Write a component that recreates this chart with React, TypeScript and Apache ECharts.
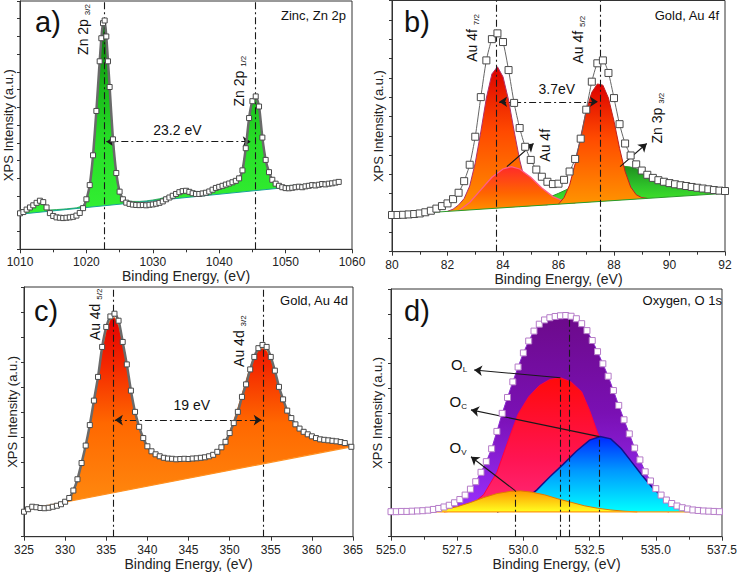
import React, { useEffect, useRef } from "react";
import * as echarts from "echarts";

const FONT = "'Liberation Sans', Arial, sans-serif";

// ---------------- Panel a: Zinc, Zn 2p ----------------
const zincSpectrum: [number, number][] = [
  [1010, 2.03], [1010.5, 2.1], [1011, 2.24], [1011.5, 2.36], [1012, 2.48], [1012.5, 2.62], [1013, 2.74], [1013.5, 2.66],
  [1014, 2.36], [1014.5, 2.04], [1015, 1.88], [1015.5, 1.8], [1016, 1.78], [1016.5, 1.76], [1017, 1.78], [1017.5, 1.8],
  [1018, 1.83], [1018.5, 1.9], [1019, 2.05], [1019.5, 2.32], [1020, 2.82], [1020.5, 3.62], [1021, 5.3], [1021.5, 7.8],
  [1022, 10.6], [1022.25, 11.9], [1022.5, 12.75], [1022.75, 12.9], [1023, 12.0], [1023.25, 10.6], [1023.5, 9.15],
  [1024, 6.2], [1024.5, 4.3], [1025, 3.25], [1025.5, 2.82], [1026, 2.63], [1026.5, 2.56], [1027, 2.52], [1027.5, 2.5],
  [1028, 2.49], [1028.5, 2.5], [1029, 2.48], [1029.5, 2.51], [1030, 2.53], [1030.5, 2.57], [1031, 2.62], [1031.5, 2.7],
  [1032, 2.82], [1032.5, 2.92], [1033, 3.02], [1033.5, 3.12], [1034, 3.22], [1034.5, 3.28], [1035, 3.3], [1035.5, 3.24],
  [1036, 3.16], [1036.5, 3.12], [1037, 3.12], [1037.5, 3.15], [1038, 3.19], [1038.5, 3.26], [1039, 3.36], [1039.5, 3.46],
  [1040, 3.52], [1040.5, 3.58], [1041, 3.65], [1041.5, 3.71], [1042, 3.78], [1042.5, 3.86], [1043, 4.0], [1043.5, 4.45],
  [1044, 5.7], [1044.5, 7.4], [1045, 8.35], [1045.5, 8.62], [1046, 8.05], [1046.5, 6.3], [1047, 5.04], [1047.5, 4.35],
  [1048, 3.92], [1048.5, 3.7], [1049, 3.58], [1049.5, 3.5], [1050, 3.45], [1050.5, 3.44], [1051, 3.47], [1051.5, 3.5],
  [1052, 3.53], [1052.5, 3.5], [1053, 3.55], [1053.5, 3.58], [1054, 3.62], [1054.5, 3.6], [1055, 3.64], [1055.5, 3.68],
  [1056, 3.66], [1056.5, 3.7], [1057, 3.72], [1057.5, 3.76], [1058, 3.8],
];
const zincEnvelope: [number, number][] = [
  [1010, 1.98], [1011, 2.15], [1012, 2.45], [1013, 2.7], [1013.5, 2.62], [1014, 2.38], [1014.5, 2.22], [1015.5, 2.24],
  [1017, 2.28], [1018.5, 2.34], [1019.5, 2.45], [1020, 2.8], [1020.5, 3.6], [1021, 5.2], [1021.5, 7.6], [1022, 10.4],
  [1022.25, 11.7], [1022.5, 12.55], [1022.75, 12.7], [1023, 11.85], [1023.25, 10.5], [1023.5, 9.0], [1024, 6.1],
  [1024.5, 4.25], [1025, 3.25], [1025.5, 2.9], [1026, 2.75], [1027, 2.7], [1028, 2.7], [1029, 2.73], [1030, 2.78],
  [1031, 2.85], [1032, 2.95], [1033, 3.1], [1034, 3.25], [1035, 3.32], [1036, 3.28], [1037, 3.25], [1038, 3.28],
  [1039, 3.38], [1040, 3.52], [1041, 3.65], [1042, 3.78], [1043, 4.0], [1043.5, 4.4], [1044, 5.65], [1044.5, 7.35],
  [1045, 8.3], [1045.5, 8.55], [1046, 8.0], [1046.5, 6.25], [1047, 5.0], [1047.5, 4.32], [1048, 3.92], [1048.5, 3.72],
  [1049, 3.62], [1050, 3.58], [1052, 3.62], [1054, 3.68], [1056, 3.72], [1058, 3.78],
];
const zincBaseline: [number, number][] = [[1010, 1.98], [1058, 3.78]];

// ---------------- Panel b: Gold, Au 4f ----------------
const au4fSpectrum: [number, number][] = [
  [80.0, 1.9], [80.2, 1.9], [80.4, 1.91], [80.6, 1.93], [80.8, 1.95], [81.0, 1.98], [81.2, 2.04], [81.4, 2.12],
  [81.6, 2.23], [81.8, 2.36], [82.0, 2.5], [82.2, 2.72], [82.4, 3.05], [82.6, 3.65], [82.8, 4.5], [83.0, 5.95],
  [83.2, 8.0], [83.4, 9.9], [83.6, 11.0], [83.8, 11.3], [84.0, 10.85], [84.2, 9.4], [84.4, 7.7], [84.6, 6.4],
  [84.8, 5.43], [85.0, 4.75], [85.2, 4.25], [85.4, 3.88], [85.6, 3.62], [85.8, 3.5], [86.0, 3.52], [86.2, 3.72],
  [86.4, 4.15], [86.6, 4.8], [86.8, 5.85], [87.0, 7.35], [87.2, 8.8], [87.4, 9.75], [87.6, 9.9], [87.8, 9.25],
  [88.0, 7.95], [88.2, 6.6], [88.4, 5.6], [88.6, 4.98], [88.8, 4.52], [89.0, 4.2], [89.2, 3.98], [89.4, 3.82],
  [89.6, 3.7], [89.8, 3.62], [90.0, 3.55], [90.2, 3.49], [90.4, 3.44], [90.6, 3.4], [90.8, 3.35], [91.0, 3.31],
  [91.2, 3.27], [91.4, 3.23], [91.6, 3.19], [91.8, 3.16], [92.0, 3.14],
];
const au4f72: [number, number][] = [
  [82.0, 2.09], [82.2, 2.2], [82.4, 2.42], [82.6, 2.75], [82.8, 3.4], [83.0, 4.6], [83.2, 6.2], [83.4, 7.95],
  [83.6, 9.2], [83.8, 9.57], [84.0, 9.05], [84.2, 7.85], [84.4, 6.25], [84.6, 4.75], [84.8, 3.6], [85.0, 2.95],
  [85.2, 2.6], [85.4, 2.45], [85.6, 2.42],
];
const au4fBroad: [number, number][] = [
  [82.4, 2.12], [82.8, 2.55], [83.2, 3.2], [83.6, 3.85], [84.0, 4.28], [84.3, 4.4], [84.6, 4.28], [85.0, 3.85],
  [85.4, 3.3], [85.8, 2.85], [86.2, 2.6], [86.6, 2.52],
];
const au4f52: [number, number][] = [
  [86.0, 2.46], [86.2, 2.8], [86.4, 3.45], [86.6, 4.55], [86.8, 5.95], [87.0, 7.3], [87.2, 8.25], [87.4, 8.68],
  [87.6, 8.62], [87.8, 7.95], [88.0, 6.75], [88.2, 5.35], [88.4, 4.15], [88.6, 3.35], [88.8, 2.95], [89.0, 2.8],
  [89.2, 2.76],
];
const zn3p32: [number, number][] = [
  [84.6, 2.33], [85.0, 2.5], [85.5, 2.72], [86.0, 3.02], [86.5, 3.35], [87.0, 3.7], [87.5, 4.12], [88.0, 4.4],
  [88.3, 4.43], [88.6, 4.38], [89.0, 4.2], [89.5, 3.9], [90.0, 3.65], [90.5, 3.43], [91.0, 3.28], [91.5, 3.17],
  [92.0, 3.1], [92.0, 3.02],
];
const au4fBaseline: [number, number][] = [[80, 1.9], [92, 3.02]];

// ---------------- Panel c: Gold, Au 4d ----------------
const au4dSpectrum: [number, number][] = [
  [325, 1.0], [325.5, 1.1], [326, 1.2], [326.5, 1.18], [327, 1.15], [327.5, 1.14], [328, 1.16], [328.5, 1.2],
  [329, 1.24], [329.5, 1.3], [330, 1.4], [330.5, 1.55], [331, 1.85], [331.5, 2.3], [332, 2.95], [332.5, 3.65],
  [333, 4.47], [333.5, 5.45], [334, 6.4], [334.5, 7.6], [335, 8.4], [335.5, 8.82], [336, 8.93], [336.5, 8.65],
  [337, 7.8], [337.5, 6.9], [338, 5.85], [338.5, 5.0], [339, 4.4], [339.5, 3.95], [340, 3.62], [340.5, 3.42],
  [341, 3.3], [341.5, 3.22], [342, 3.16], [342.5, 3.13], [343, 3.12], [343.5, 3.1], [344, 3.11], [344.5, 3.12],
  [345, 3.11], [345.5, 3.13], [346, 3.14], [346.5, 3.16], [347, 3.18], [347.5, 3.22], [348, 3.28], [348.5, 3.4],
  [349, 3.58], [349.5, 3.8], [350, 4.15], [350.5, 4.55], [351, 5.0], [351.5, 5.6], [352, 6.1], [352.5, 6.7],
  [353, 7.2], [353.5, 7.55], [354, 7.68], [354.5, 7.6], [355, 7.2], [355.5, 6.65], [356, 6.0], [356.5, 5.5],
  [357, 5.05], [357.5, 4.75], [358, 4.5], [358.5, 4.33], [359, 4.2], [359.5, 4.1], [360, 4.02], [360.5, 3.95],
  [361, 3.9], [361.5, 3.88], [362, 3.86], [362.5, 3.84], [363, 3.82], [363.5, 3.79], [364, 3.75], [364.8, 3.6],
];
const au4dEnvelope: [number, number][] = [
  [325, 1.07], [326, 1.12], [327, 1.17], [328, 1.22], [329, 1.28], [330, 1.4], [330.5, 1.55], [331, 1.8],
  [331.5, 2.25], [332, 2.9], [332.5, 3.65], [333, 4.45], [333.5, 5.4], [334, 6.4], [334.5, 7.45], [335, 8.25],
  [335.5, 8.7], [336, 8.78], [336.5, 8.45], [337, 7.75], [337.5, 6.8], [338, 5.8], [338.5, 4.95], [339, 4.3],
  [339.5, 3.85], [340, 3.55], [341, 3.25], [342, 3.12], [343, 3.08], [344, 3.07], [345, 3.08], [346, 3.12],
  [347, 3.18], [348, 3.3], [348.5, 3.42], [349, 3.6], [349.5, 3.85], [350, 4.2], [350.5, 4.65], [351, 5.15],
  [351.5, 5.7], [352, 6.25], [352.5, 6.8], [353, 7.2], [353.5, 7.45], [354, 7.55], [354.5, 7.45], [355, 7.1],
  [355.5, 6.6], [356, 6.0], [356.5, 5.45], [357, 5.0], [357.5, 4.65], [358, 4.4], [359, 4.12], [360, 3.98],
  [361, 3.88], [362, 3.82], [363, 3.78], [364, 3.7], [364.8, 3.6],
];
const au4dBaseline: [number, number][] = [[325, 1.07], [364.8, 3.6]];

// ---------------- Panel d: Oxygen, O 1s ----------------
const o1sSpectrum: [number, number][] = [
  [525.0, 1.01], [525.2, 1.01], [525.4, 1.02], [525.6, 1.02], [525.8, 1.03], [526.0, 1.04], [526.2, 1.05], [526.4, 1.07],
  [526.6, 1.1], [526.8, 1.14], [527.0, 1.2], [527.2, 1.27], [527.4, 1.37], [527.6, 1.5], [527.8, 1.68], [528.0, 1.92],
  [528.2, 2.22], [528.4, 2.6], [528.6, 3.03], [528.8, 3.55], [529.0, 4.25], [529.2, 4.98], [529.4, 5.62], [529.6, 6.25],
  [529.8, 6.85], [530.0, 7.42], [530.2, 7.9], [530.4, 8.3], [530.6, 8.58], [530.8, 8.75], [531.0, 8.84], [531.2, 8.89],
  [531.4, 8.92], [531.6, 8.93], [531.8, 8.9], [532.0, 8.8], [532.2, 8.6], [532.4, 8.32], [532.6, 7.92], [532.8, 7.47],
  [533.0, 6.98], [533.2, 6.48], [533.4, 5.9], [533.6, 5.3], [533.8, 4.72], [534.0, 4.15], [534.2, 3.58], [534.4, 3.1],
  [534.6, 2.62], [534.8, 2.25], [535.0, 1.94], [535.2, 1.68], [535.4, 1.48], [535.6, 1.34], [535.8, 1.24], [536.0, 1.17],
  [536.2, 1.12], [536.4, 1.08], [536.6, 1.06], [536.8, 1.04], [537.0, 1.03], [537.2, 1.02], [537.4, 1.01],
];
const o1sLattice: [number, number][] = [
  [527.0, 1.0], [527.5, 1.05], [528.0, 1.25], [528.5, 1.7], [529.0, 2.6], [529.5, 4.1], [529.8, 4.95], [530.2, 5.65],
  [530.6, 6.1], [531.0, 6.35], [531.4, 6.42], [531.8, 6.25], [532.2, 5.85], [532.5, 5.1], [532.8, 4.2], [533.2, 3.2],
  [533.6, 2.4], [534.0, 1.8], [534.5, 1.35], [535.0, 1.1], [535.5, 1.0],
];
const o1sChemisorbed: [number, number][] = [
  [529.0, 1.0], [529.5, 1.15], [530.0, 1.45], [530.5, 1.88], [531.0, 2.42], [531.5, 2.92], [532.0, 3.45], [532.5, 3.9],
  [532.9, 4.04], [533.3, 3.95], [533.7, 3.55], [534.1, 3.0], [534.5, 2.45], [534.9, 1.95], [535.3, 1.57], [535.7, 1.3],
  [536.1, 1.12], [536.5, 1.03], [537.0, 1.0],
];
const o1sVacancy: [number, number][] = [
  [526.0, 1.0], [526.5, 1.04], [527.0, 1.1], [527.5, 1.21], [528.0, 1.38], [528.5, 1.58], [529.0, 1.74], [529.5, 1.83],
  [529.9, 1.85], [530.3, 1.8], [530.8, 1.69], [531.3, 1.53], [531.8, 1.39], [532.3, 1.25], [532.8, 1.15], [533.3, 1.08],
  [533.8, 1.03], [534.3, 1.0],
];
const o1sBaseline: [number, number][] = [[525, 1.0], [537.5, 1.0]];

// ---------------- layout / axes ----------------
const grids = [
  { left: 20, top: 1, width: 332, height: 248.3 },
  { left: 392, top: 0.5, width: 333, height: 251.2 },
  { left: 24, top: 287, width: 329, height: 249.7 },
  { left: 391, top: 289, width: 335, height: 247.7 },
];
const xRanges = [
  { min: 1010, max: 1060, interval: 10, minor: true, digits: 0 },
  { min: 80, max: 92, interval: 2, minor: true, digits: 0 },
  { min: 325, max: 365, interval: 5, minor: false, digits: 0 },
  { min: 525, max: 537.5, interval: 2.5, minor: true, digits: 1 },
];
const yMax = [14, 13, 10, 10];

const DASHDOT = [7, 3, 2, 3];
const vgrad = (stops: [number, string][]) =>
  new echarts.graphic.LinearGradient(0, 0, 0, 1, stops.map(([offset, color]) => ({ offset, color })));

function fillSeries(g: number, pts: [number, number][], fill: any, stroke?: string, lw = 1) {
  return {
    type: "custom",
    xAxisIndex: g,
    yAxisIndex: g,
    z: 2,
    silent: true,
    data: [pts[0]],
    renderItem: (_p: any, api: any) => {
      const points = pts.map((p) => api.coord(p));
      const children: any[] = [{ type: "polygon", shape: { points }, style: { fill } }];
      if (stroke) children.push({ type: "polyline", shape: { points }, style: { stroke, fill: "none", lineWidth: lw } });
      return { type: "group", children };
    },
  };
}

function lineSeries(g: number, pts: [number, number][], color: string, width = 1, z = 4) {
  return {
    type: "line",
    xAxisIndex: g,
    yAxisIndex: g,
    data: pts,
    symbol: "none",
    silent: true,
    z,
    lineStyle: { color, width },
  };
}

type Seg = { from: [number, number]; to: [number, number]; dash?: boolean; start?: boolean; end?: boolean };
function markLines(segs: Seg[]) {
  return {
    silent: true,
    animation: false,
    symbolSize: 8,
    label: { show: false },
    emphasis: { disabled: true },
    data: segs.map((s) => [
      {
        coord: s.from,
        symbol: s.start ? "arrow" : "none",
        lineStyle: { color: "#1a1a1a", width: 1.1, type: s.dash ? DASHDOT : "solid" },
      },
      { coord: s.to, symbol: s.end ? "arrow" : "none" },
    ]),
  };
}

function dataSeries(
  g: number,
  pts: [number, number][],
  border: string,
  size: number,
  lineColor: string,
  lineWidth: number,
  segs: Seg[]
) {
  return {
    type: "line",
    xAxisIndex: g,
    yAxisIndex: g,
    data: pts,
    smooth: 0.2,
    symbol: "rect",
    symbolSize: size,
    showSymbol: true,
    showAllSymbol: true,
    silent: true,
    z: 5,
    itemStyle: { color: "#fff", borderColor: border, borderWidth: 1 },
    lineStyle: { color: lineColor, width: lineWidth },
    markLine: markLines(segs),
  };
}

const annoTexts = [
  { g: 0, at: [1019.5, 10.96], main: "Zn 2p ", sub: "3/2", rot: true },
  { g: 0, at: [1043.0, 8.05], main: "Zn 2p ", sub: "1/2", rot: true },
  { g: 0, at: [1033.7, 6.73], main: "23.2 eV" },
  { g: 1, at: [82.88, 9.83], main: "Au 4f ", sub: "7/2", rot: true },
  { g: 1, at: [86.72, 9.74], main: "Au 4f ", sub: "5/2", rot: true },
  { g: 1, at: [85.52, 4.66], main: "Au 4f", rot: true },
  { g: 1, at: [89.54, 5.6], main: "Zn 3p ", sub: "3/2", rot: true },
  { g: 1, at: [85.94, 8.4], main: "3.7eV" },
  { g: 2, at: [333.6, 7.87], main: "Au 4d ", sub: "5/2", rot: true },
  { g: 2, at: [351.2, 6.8], main: "Au 4d ", sub: "3/2", rot: true },
  { g: 2, at: [345.4, 5.27], main: "19 eV" },
  { g: 3, at: [527.27, 6.94], main: "O", sub: "L", left: true },
  { g: 3, at: [527.21, 5.45], main: "O", sub: "C", left: true },
  { g: 3, at: [527.21, 3.6], main: "O", sub: "V", left: true },
];
const panelLetters = [
  { text: "a)", x: 35, y: 7 },
  { text: "b)", x: 404, y: 7 },
  { text: "c)", x: 34, y: 296 },
  { text: "d)", x: 404, y: 296 },
];
const panelTitles = [
  { text: "Zinc, Zn 2p", x: 346, y: 15 },
  { text: "Gold, Au 4f", x: 719, y: 15 },
  { text: "Gold, Au 4d", x: 348, y: 300 },
  { text: "Oxygen, O 1s", x: 722, y: 300 },
];

function buildOption() {
  const xAxis = xRanges.map((r, i) => ({
    type: "value",
    gridIndex: i,
    min: r.min,
    max: r.max,
    interval: r.interval,
    name: "Binding Energy, (eV)",
    nameLocation: "middle",
    nameGap: 20,
    nameTextStyle: { fontSize: 14, color: "#222", fontFamily: FONT },
    axisLine: { show: true, lineStyle: { color: "#333", width: 1 } },
    axisTick: { show: true, length: 4, inside: false, lineStyle: { color: "#333" } },
    minorTick: { show: r.minor, splitNumber: 2, length: 3, lineStyle: { color: "#333" } },
    splitLine: { show: false },
    axisLabel: {
      fontSize: 12,
      color: "#222",
      fontFamily: FONT,
      margin: 7,
      formatter: (v: number) => v.toFixed(r.digits),
    },
  }));
  const yAxis = yMax.map((m, i) => ({
    type: "value",
    gridIndex: i,
    min: 0,
    max: m,
    interval: 1,
    name: "XPS Intensity (a.u.)",
    nameLocation: "middle",
    nameGap: i % 2 === 0 ? 5 : 7,
    nameTextStyle: { fontSize: 13, color: "#222", fontFamily: FONT },
    axisLine: { show: true, lineStyle: { color: "#333", width: 1 } },
    axisTick: { show: true, length: 3, inside: false, lineStyle: { color: "#333" } },
    axisLabel: { show: false },
    splitLine: { show: false },
  }));

  const series: any[] = [
    // panel a
    fillSeries(0, zincEnvelope, vgrad([[0, "#0c6f0c"], [0.3, "#18b418"], [0.6, "#26dc26"], [1, "#33f033"]]), "#1a9a5a", 0.8),
    lineSeries(0, zincBaseline, "#1aa39a", 1),
    dataSeries(0, zincSpectrum, "#4a4a4a", 5, "#6a6a6a", 2.5, [
      { from: [1022.65, 0], to: [1022.65, 14], dash: true },
      { from: [1045.5, 0], to: [1045.5, 14], dash: true },
      { from: [1023.0, 6.07], to: [1044.75, 6.07], dash: true, start: true, end: true },
    ]),
    // panel b
    fillSeries(1, zn3p32, vgrad([[0, "#1f8f1f"], [0.5, "#2fc42a"], [1, "#45f028"]]), "#2a9a2a", 1),
    fillSeries(1, au4f72, vgrad([[0, "#dc0000"], [0.45, "#ff4a00"], [1, "#ff9400"]]), "#b0306a", 1),
    fillSeries(1, au4fBroad, vgrad([[0, "#ff2a2a"], [0.6, "#ff6400"], [1, "#ff9000"]]), "#ff5c8a", 1.3),
    fillSeries(1, au4f52, vgrad([[0, "#dc0000"], [0.45, "#ff4a00"], [1, "#ff9400"]]), "#c02020", 1),
    lineSeries(1, au4fBaseline, "#2a9a2a", 1),
    dataSeries(1, au4fSpectrum, "#4a4a4a", 7, "#666", 1, [
      { from: [83.76, 0], to: [83.76, 13], dash: true },
      { from: [87.5, 0], to: [87.5, 13], dash: true },
      { from: [83.86, 7.76], to: [87.42, 7.76], dash: true, start: true, end: true },
      { from: [84.14, 4.4], to: [85.1, 5.6], end: true },
      { from: [88.22, 4.4], to: [89.18, 5.6], end: true },
    ]),
    // panel c
    fillSeries(2, au4dEnvelope, vgrad([[0, "#e40000"], [0.25, "#f42800"], [0.55, "#ff6800"], [1, "#ff8c10"]]), "#e06000", 0.8),
    lineSeries(2, au4dBaseline, "#ff9020", 1.2),
    dataSeries(2, au4dSpectrum, "#4a4a4a", 5, "#6a6a6a", 2.5, [
      { from: [335.85, 0], to: [335.85, 10], dash: true },
      { from: [354.07, 0], to: [354.07, 10], dash: true },
      { from: [336.05, 4.67], to: [353.9, 4.67], dash: true, start: true, end: true },
    ]),
    // panel d
    fillSeries(3, o1sSpectrum, vgrad([[0, "#6c0a8a"], [0.5, "#7a10b4"], [1, "#9a30ff"]]), "#8a2ad0", 1),
    fillSeries(3, o1sLattice, vgrad([[0, "#ff0a0a"], [0.6, "#ff1452"], [1, "#ff2a7a"]]), "#ff0040", 1),
    fillSeries(3, o1sChemisorbed, vgrad([[0, "#0028ff"], [0.45, "#0098ff"], [1, "#00ffff"]]), "#12128a", 1.5),
    fillSeries(3, o1sVacancy, vgrad([[0, "#ff9a00"], [1, "#ffff20"]]), "#e07a00", 1),
    lineSeries(3, o1sBaseline, "#ff9a10", 1.2),
    dataSeries(3, o1sSpectrum, "#b57bc8", 6, "rgba(0,0,0,0)", 1, [
      { from: [529.7, 0], to: [529.7, 1.85], dash: true },
      { from: [531.4, 0], to: [531.4, 6.42], dash: true },
      { from: [531.75, 0], to: [531.75, 8.93], dash: true },
      { from: [532.87, 0], to: [532.87, 4.04], dash: true },
      { from: [531.4, 6.42], to: [528.14, 6.73], end: true },
      { from: [532.87, 4.04], to: [528.02, 5.12], end: true },
      { from: [529.7, 1.85], to: [528.02, 3.23], end: true },
    ]),
  ];

  return {
    animation: false,
    backgroundColor: "#fff",
    textStyle: { fontFamily: FONT },
    grid: grids.map((g) => ({ ...g, show: true, borderColor: "#333", borderWidth: 1, backgroundColor: "transparent" })),
    xAxis,
    yAxis,
    series,
  };
}

function buildGraphics(chart: any) {
  const els: any[] = [];
  for (const a of annoTexts) {
    const p = chart.convertToPixel({ gridIndex: a.g }, a.at);
    const big = a.left ? 15 : 14;
    const text = a.sub ? `{m|${a.main}}{s|${a.sub}}` : `{m|${a.main}}`;
    els.push({
      type: "text",
      x: p[0],
      y: p[1],
      rotation: a.rot ? Math.PI / 2 : 0,
      z: 100,
      silent: true,
      style: {
        text,
        align: a.rot || a.left ? "left" : "center",
        verticalAlign: "middle",
        rich: {
          m: { fontSize: big, fontFamily: FONT, fill: "#111", lineHeight: big + 3 },
          s: { fontSize: 8, fontFamily: FONT, fill: "#111", lineHeight: 8, verticalAlign: "bottom" },
        },
      },
    });
  }
  for (const l of panelLetters) {
    els.push({
      type: "text",
      x: l.x,
      y: l.y,
      z: 100,
      silent: true,
      style: { text: l.text, fontSize: 29, fontFamily: FONT, fill: "#111", align: "left", verticalAlign: "top" },
    });
  }
  for (const t of panelTitles) {
    els.push({
      type: "text",
      x: t.x,
      y: t.y,
      z: 100,
      silent: true,
      style: { text: t.text, fontSize: 13, fontFamily: FONT, fill: "#111", align: "right", verticalAlign: "middle" },
    });
  }
  return els;
}

export default function App() {
  const ref = useRef<HTMLDivElement>(null);
  useEffect(() => {
    const chart = echarts.init(ref.current as HTMLDivElement, null, { renderer: "svg" });
    chart.setOption(buildOption() as any);
    chart.setOption({ graphic: buildGraphics(chart) } as any);
    return () => chart.dispose();
  }, []);
  return <div ref={ref} style={{ position: "absolute", left: 0, top: 0, width: 740, height: 572 }} />;
}
